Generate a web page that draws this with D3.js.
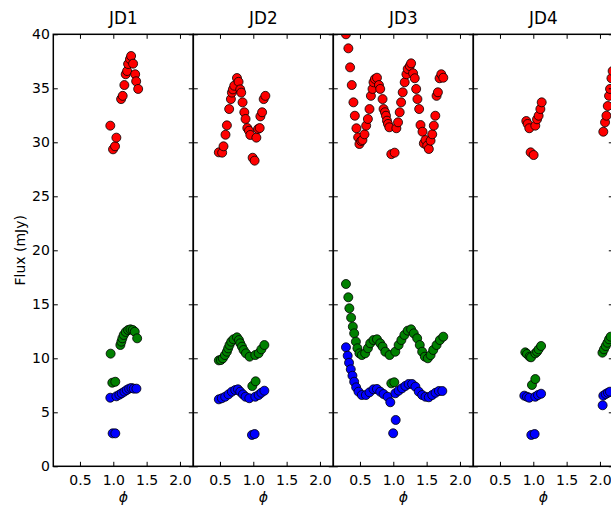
<!DOCTYPE html>
<html><head><meta charset="utf-8">
<script src="https://cdn.jsdelivr.net/npm/d3@7"></script>
<style>body{margin:0;background:#fff}svg{display:block}</style>
</head><body>
<svg id="c" width="611" height="507"></svg>
<script>
// ---- data ----
const panelTitles = ["JD1", "JD2", "JD3", "JD4"];
const xTicks = [0.5, 1.0, 1.5, 2.0];
const yTicks = [0, 5, 10, 15, 20, 25, 30, 35, 40];
const xDomain = [0.1, 2.2];
const yDomain = [0, 40];
const seriesColors = ["#ff0000", "#008000", "#0000ff"];

// [phase, flux]
const jd1Red = [[0.955,31.54],[0.996,29.35],[1.026,29.63],[1.046,30.43],[1.117,34.0],[1.141,34.3],[1.166,35.3],[1.186,36.3],[1.207,36.6],[1.222,37.25],[1.25,37.7],[1.267,37.99],[1.297,37.28],[1.328,36.3],[1.343,35.65],[1.373,34.94]];
const jd1Green = [[0.96,10.43],[0.985,7.74],[1.03,7.83],[1.106,11.23],[1.121,11.54],[1.136,11.85],[1.156,12.16],[1.186,12.44],[1.222,12.62],[1.257,12.68],[1.292,12.62],[1.322,12.46],[1.358,11.85]];
const jd1Blue = [[0.955,6.35],[0.99,3.05],[1.03,3.05],[1.046,6.48],[1.091,6.63],[1.126,6.76],[1.166,6.91],[1.201,7.06],[1.237,7.19],[1.272,7.25],[1.307,7.19],[1.347,7.19]];

const jd2Red = [[0.483,29.07],[0.533,29.04],[0.553,29.63],[0.583,30.7],[0.604,31.57],[0.638,33.08],[0.664,34.0],[0.679,34.6],[0.694,34.9],[0.714,35.24],[0.755,35.95],[0.779,35.6],[0.804,34.9],[0.819,34.6],[0.839,33.7],[0.865,32.78],[0.884,32.16],[0.91,31.32],[0.935,31.07],[0.955,30.68],[0.99,28.57],[1.02,28.3],[1.046,30.43],[1.071,31.23],[1.096,31.32],[1.106,32.4],[1.132,32.78],[1.156,34.0],[1.181,34.3]];
const jd2Green = [[0.483,9.81],[0.513,9.84],[0.543,10.0],[0.574,10.3],[0.604,10.61],[0.623,10.92],[0.643,11.23],[0.669,11.54],[0.703,11.76],[0.755,11.94],[0.785,11.69],[0.804,11.39],[0.83,11.08],[0.854,10.77],[0.89,10.46],[0.945,10.15],[0.985,7.43],[1.035,7.87],[1.03,10.3],[1.08,10.46],[1.121,10.83],[1.166,11.23]];
const jd2Blue = [[0.483,6.2],[0.528,6.3],[0.578,6.44],[0.628,6.66],[0.679,6.91],[0.729,7.06],[0.77,7.13],[0.804,6.91],[0.845,6.66],[0.884,6.44],[0.94,6.3],[0.98,2.9],[1.02,2.99],[1.03,6.44],[1.08,6.6],[1.121,6.81],[1.166,7.0]];

const jd3Red = [[0.29,40.0],[0.326,38.7],[0.352,36.94],[0.377,35.3],[0.402,33.7],[0.423,32.46],[0.447,31.3],[0.473,30.46],[0.492,29.84],[0.518,30.12],[0.537,30.21],[0.568,30.74],[0.593,31.54],[0.619,32.16],[0.643,33.08],[0.664,34.3],[0.688,34.94],[0.703,35.56],[0.724,35.86],[0.755,35.98],[0.785,35.3],[0.804,34.94],[0.839,34.0],[0.854,33.08],[0.875,32.78],[0.89,32.46],[0.905,32.0],[0.92,31.7],[0.94,31.39],[0.97,28.9],[1.02,29.04],[1.046,31.3],[1.071,31.85],[1.096,32.78],[1.117,33.7],[1.141,34.63],[1.171,35.56],[1.197,36.3],[1.216,36.79],[1.247,37.06],[1.267,37.31],[1.297,36.39],[1.322,35.93],[1.343,34.94],[1.362,34.0],[1.388,33.08],[1.408,31.6],[1.438,30.98],[1.458,29.9],[1.483,30.21],[1.509,29.69],[1.533,29.38],[1.559,30.15],[1.584,30.74],[1.608,31.54],[1.63,32.46],[1.649,34.3],[1.669,34.63],[1.694,35.93],[1.72,36.3],[1.75,35.98]];
const jd3Green = [[0.29,16.88],[0.325,15.65],[0.341,14.63],[0.367,13.76],[0.393,12.93],[0.413,12.31],[0.439,11.54],[0.462,10.93],[0.492,10.46],[0.528,10.3],[0.578,10.46],[0.619,10.93],[0.654,11.39],[0.703,11.69],[0.755,11.76],[0.804,11.39],[0.839,11.08],[0.88,10.61],[0.945,10.3],[0.97,7.68],[1.015,7.78],[1.03,10.61],[1.08,11.23],[1.121,11.69],[1.166,12.16],[1.216,12.56],[1.267,12.68],[1.307,12.31],[1.358,11.85],[1.397,11.23],[1.433,10.61],[1.473,10.15],[1.518,10.0],[1.559,10.3],[1.599,10.77],[1.649,11.23],[1.699,11.69],[1.75,12.0]];
const jd3Blue = [[0.29,11.02],[0.316,10.24],[0.336,9.59],[0.362,8.98],[0.387,8.39],[0.413,7.83],[0.443,7.31],[0.478,6.91],[0.528,6.6],[0.589,6.6],[0.643,6.85],[0.703,7.13],[0.755,7.16],[0.804,6.91],[0.854,6.69],[0.915,6.44],[0.955,5.93],[1.036,4.29],[0.998,3.06],[1.03,6.76],[1.08,7.0],[1.131,7.22],[1.181,7.44],[1.23,7.62],[1.282,7.62],[1.332,7.37],[1.382,6.91],[1.433,6.6],[1.483,6.44],[1.533,6.39],[1.584,6.6],[1.634,6.81],[1.684,6.97],[1.735,6.97]];

const jd4Red = [[0.895,31.97],[0.915,31.7],[0.94,31.3],[0.96,29.07],[1.005,28.82],[1.03,31.54],[1.056,32.13],[1.08,32.46],[1.106,33.08],[1.126,33.7],[2.05,30.98],[2.076,31.85],[2.097,32.46],[2.117,33.36],[2.136,34.3],[2.151,34.94],[2.172,35.93],[2.19,36.6]];
const jd4Green = [[0.88,10.55],[0.905,10.4],[0.945,10.15],[0.966,10.09],[0.98,7.53],[1.03,8.08],[1.03,10.46],[1.056,10.61],[1.08,10.83],[1.117,11.14],[2.037,10.52],[2.06,10.83],[2.086,11.14],[2.112,11.44],[2.136,11.76],[2.16,12.0]];
const jd4Blue = [[0.865,6.54],[0.905,6.44],[0.94,6.35],[0.97,2.9],[1.02,2.99],[1.03,6.44],[1.071,6.6],[1.117,6.72],[2.04,5.65],[2.05,6.54],[2.086,6.69],[2.12,6.81],[2.15,6.91]];

const panelSeries = [
  [jd1Red, jd1Green, jd1Blue],
  [jd2Red, jd2Green, jd2Blue],
  [jd3Red, jd3Green, jd3Blue],
  [jd4Red, jd4Green, jd4Blue]
];

// ---- layout ----
const svg = d3.select("#c");
const font = "'DejaVu Sans', sans-serif";
const plotTop = 34.3, plotBottom = 466.3;
const left0 = 53.3, panelW = 140;
const yScale = d3.scaleLinear().domain(yDomain).range([plotBottom, plotTop]);
const tickLen = 4.5;

panelTitles.forEach((title, i) => {
  const L = left0 + i * panelW;
  const xScale = d3.scaleLinear().domain(xDomain).range([L, L + panelW]);
  const g = svg.append("g");

  g.append("clipPath").attr("id", "clip" + i)
    .append("rect").attr("x", L).attr("y", plotTop).attr("width", panelW).attr("height", plotBottom - plotTop);

  const pts = g.append("g").attr("clip-path", `url(#clip${i})`);
  panelSeries[i].forEach((ser, k) => {
    pts.selectAll(null).data(ser).enter().append("circle")
      .attr("cx", d => xScale(d[0])).attr("cy", d => yScale(d[1]))
      .attr("r", 4.5)
      .attr("fill", seriesColors[k])
      .attr("stroke", "#000").attr("stroke-width", 0.8);
  });

  const axB = d3.axisBottom(xScale).tickValues(xTicks).tickSize(-tickLen).tickFormat(d3.format(".1f"));
  const axT = d3.axisTop(xScale).tickValues(xTicks).tickSize(-tickLen).tickFormat("");
  const axL = d3.axisLeft(yScale).tickValues(yTicks).tickSize(-tickLen).tickFormat(i === 0 ? d3.format("d") : "");
  const axR = d3.axisRight(yScale).tickValues(yTicks).tickSize(-tickLen).tickFormat("");

  const gb = g.append("g").attr("transform", `translate(0,${plotBottom})`).call(axB);
  const gt = g.append("g").attr("transform", `translate(0,${plotTop})`).call(axT);
  const gl = g.append("g").attr("transform", `translate(${L},0)`).call(axL);
  const gr = g.append("g").attr("transform", `translate(${L + panelW},0)`).call(axR);
  [gb, gt, gl, gr].forEach(a => {
    a.select(".domain").remove();
    a.selectAll(".tick line").attr("stroke", "#000").attr("stroke-width", 1);
    a.selectAll("text").attr("font-family", font).attr("font-size", 14).attr("fill", "#000");
  });
  gb.selectAll("text").attr("dy", null).attr("y", 18.5);
  gl.selectAll("text").attr("x", -3.5);

  g.append("rect").attr("x", L).attr("y", plotTop).attr("width", panelW).attr("height", plotBottom - plotTop)
    .attr("fill", "none").attr("stroke", "#000").attr("stroke-width", 1.5);

  g.append("text").attr("x", L + panelW / 2).attr("y", 24)
    .attr("text-anchor", "middle").attr("font-family", font).attr("font-size", 16.8)
    .text(title);

  g.append("text").attr("x", L + panelW / 2).attr("y", 502)
    .attr("text-anchor", "middle").attr("font-family", font).attr("font-size", 14)
    .attr("font-style", "italic").text("ϕ");
});

svg.append("text")
  .attr("transform", `translate(25,${(plotTop + plotBottom) / 2}) rotate(-90)`)
  .attr("text-anchor", "middle").attr("font-family", font).attr("font-size", 14)
  .text("Flux (mJy)");
</script>
</body></html>
